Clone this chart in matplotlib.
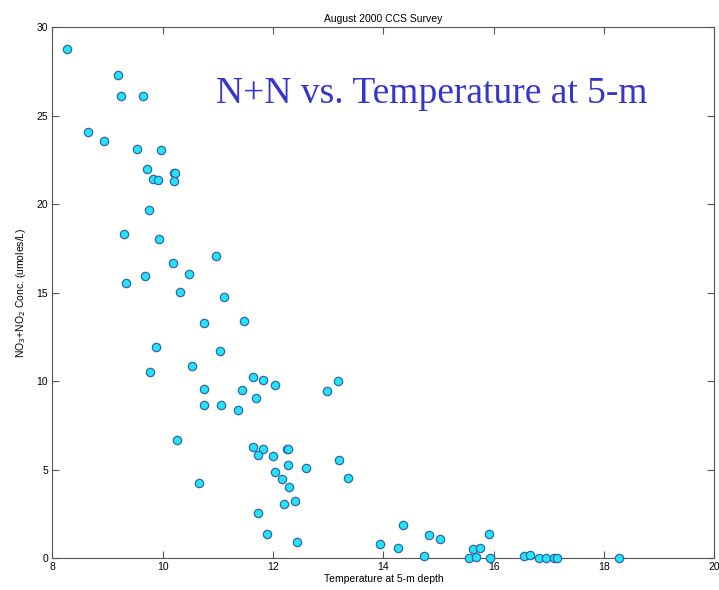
import matplotlib.pyplot as plt

# temperature at 5 m (deg C) and NO3+NO2 (umoles/L)
temp = [8.26, 9.18, 9.24, 9.64, 8.65, 8.94, 9.53, 9.97, 9.72, 9.82,
        9.91, 10.20, 10.23, 10.20, 9.75, 9.29, 9.93, 10.97, 10.18, 10.48,
        9.68, 9.33, 10.31, 11.11, 10.75, 11.47, 9.87, 11.03, 10.53, 9.77,
        11.64, 11.82, 12.04, 13.17, 12.97, 10.75, 11.43, 11.69, 10.75, 11.06,
        11.36, 10.25, 11.64, 11.81, 11.72, 12.25, 12.27, 12.00, 12.27, 12.59,
        13.20, 12.04, 12.16, 13.35, 12.28, 10.66, 12.40, 12.20, 11.73, 11.89,
        12.44, 13.93, 14.27, 14.36, 14.73, 14.82, 15.02, 15.55, 15.62, 15.67,
        15.75, 15.92, 15.93, 16.55, 16.66, 16.82, 16.94, 17.10, 17.15, 18.27]
nn = [28.77, 27.30, 26.13, 26.13, 24.10, 23.60, 23.12, 23.05, 22.00, 21.40,
      21.35, 21.76, 21.76, 21.30, 19.70, 18.30, 18.03, 17.05, 16.68, 16.05,
      15.92, 15.55, 15.04, 14.74, 13.28, 13.40, 11.93, 11.72, 10.85, 10.49,
      10.25, 10.06, 9.76, 10.02, 9.42, 9.54, 9.48, 9.03, 8.65, 8.65,
      8.37, 6.69, 6.27, 6.14, 5.82, 6.18, 6.14, 5.77, 5.26, 5.07,
      5.52, 4.84, 4.45, 4.50, 4.01, 4.22, 3.20, 3.05, 2.52, 1.37,
      0.92, 0.79, 0.58, 1.85, 0.10, 1.32, 1.07, 0.02, 0.51, 0.07,
      0.58, 1.37, 0.00, 0.09, 0.15, 0.00, 0.00, 0.02, 0.02, 0.00]

xticks = [8, 10, 12, 14, 16, 18, 20]
yticks = [0, 5, 10, 15, 20, 25, 30]

plt.rcParams['font.family'] = ['Liberation Sans', 'DejaVu Sans']

fig = plt.figure(figsize=(7.19, 5.90), dpi=100)
ax = fig.add_axes([0.0729, 0.0542, 0.9208, 0.8995])

ax.scatter(temp, nn, s=36, c='#22e4f4', edgecolors='#3565ad',
           linewidths=0.9, zorder=3, clip_on=False)

ax.set_xlim(8, 20)
ax.set_ylim(0, 30)
ax.set_xticks(xticks)
ax.set_yticks(yticks)
ax.tick_params(direction='in', length=5, width=0.8, colors='#555555',
               labelcolor='black', labelsize=7.5, top=True, right=True, pad=3)
for sp in ax.spines.values():
    sp.set_color('#555555')
    sp.set_linewidth(0.8)

ax.set_title('August 2000 CCS Survey', fontsize=7.5, pad=4)
ax.set_xlabel('Temperature at 5-m depth', fontsize=7.5, labelpad=1)
ax.set_ylabel('NO$_3$+NO$_2$ Conc. (umoles/L)', fontsize=7.5, labelpad=6)

fig.text(0.300, 0.826, 'N+N vs. Temperature at 5-m', fontsize=27,
         family='Liberation Serif', color='#3535cc', va='baseline')

fig.savefig('out.png', dpi=100, facecolor='white')
